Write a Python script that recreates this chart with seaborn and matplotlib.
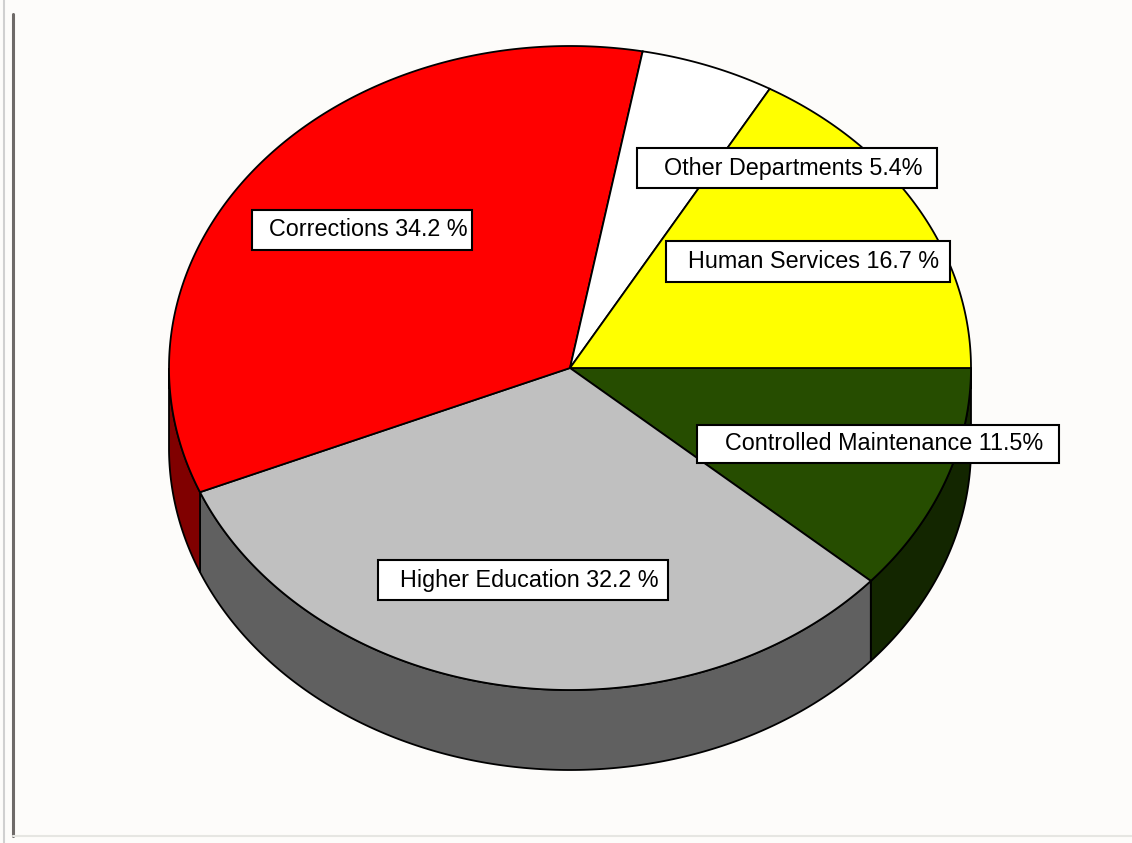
import numpy as np
import matplotlib
matplotlib.use('Agg')
import matplotlib.pyplot as plt
from matplotlib.patches import Polygon, Rectangle
import seaborn as sns

# data (clockwise from 3 o'clock)
departments = ['Controlled Maintenance', 'Higher Education', 'Corrections',
               'Other Departments', 'Human Services']
shares = [11.5, 32.2, 34.2, 5.4, 16.7]
label_texts = ['Controlled Maintenance 11.5%', 'Higher Education 32.2 %',
               'Corrections 34.2 %', 'Other Departments 5.4%',
               'Human Services 16.7 %']
top_colors = ['#264d00', '#c0c0c0', '#ff0000', '#ffffff', '#ffff00']
side_colors = ['#132600', '#606060', '#800000', '#808080', '#808000']

# label boxes (x0, y0, x1, y1) in pixels
label_boxes = [(697, 425, 1059, 463), (378, 560, 668, 600), (252, 210, 472, 250),
               (637, 148, 937, 188), (666, 241, 950, 282)]

sns.set_style("white")
plt.rcParams['font.family'] = ['Liberation Sans', 'DejaVu Sans']

fig = plt.figure(figsize=(11.32, 8.43), dpi=100)
fig.patch.set_facecolor('#fdfcfa')
ax = fig.add_axes([0, 0, 1, 1])
ax.set_xlim(0, 1132)
ax.set_ylim(843, 0)
ax.set_facecolor('#fdfcfa')
ax.axis('off')

# frame lines
ax.plot([4, 4], [0, 843], color='#d0d0d0', lw=1.5)
ax.plot([13, 13], [14, 836], color='#6e6a68', lw=2.2)
ax.plot([13, 1132], [836, 836], color='#e6e6e2', lw=1.5)

cx, cy, a, b, depth = 570, 368, 401, 322, 80


def ell(theta):
    t = np.radians(theta)
    return cx + a * np.cos(t), cy + b * np.sin(t)


bounds = np.concatenate([[0], np.cumsum(shares) / np.sum(shares) * 360])

# side walls (front half only)
for i in range(len(shares)):
    t0, t1 = max(bounds[i], 0), min(bounds[i + 1], 180)
    if t1 <= t0:
        continue
    th = np.linspace(t0, t1, 200)
    xs, ys = ell(th)
    pts = np.column_stack([np.concatenate([xs, xs[::-1]]),
                           np.concatenate([ys, ys[::-1] + depth])])
    ax.add_patch(Polygon(pts, closed=True, facecolor=side_colors[i],
                         edgecolor='black', lw=1.3, zorder=1))

# top wedges
for i in range(len(shares)):
    th = np.linspace(bounds[i], bounds[i + 1], 300)
    xs, ys = ell(th)
    pts = np.column_stack([np.concatenate([[cx], xs]), np.concatenate([[cy], ys])])
    ax.add_patch(Polygon(pts, closed=True, facecolor=top_colors[i],
                         edgecolor='black', lw=1.3, zorder=2))

# labels
for txt, (x0, y0, x1, y1) in zip(label_texts, label_boxes):
    ax.add_patch(Rectangle((x0, y0), x1 - x0, y1 - y0, facecolor='white',
                           edgecolor='black', lw=1.5, zorder=3))
    ax.text((x0 + x1) / 2 + 6, (y0 + y1) / 2, txt, ha='center', va='center',
            fontsize=16.8, color='black', zorder=4)

fig.savefig('out.png', dpi=100, facecolor=fig.get_facecolor())
